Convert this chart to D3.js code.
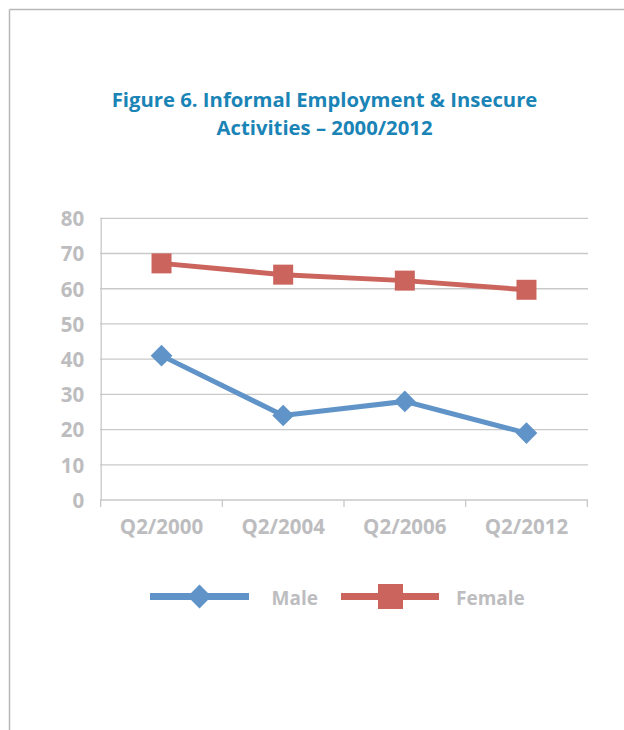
<!DOCTYPE html>
<html><head><meta charset="utf-8">
<script src="https://cdn.jsdelivr.net/npm/d3@7"></script>
<style>body{margin:0;background:#fff}svg{display:block}</style>
</head><body>
<script>
const categories = ["Q2/2000","Q2/2004","Q2/2006","Q2/2012"];
const maleValues = [41,24,28,19];
const femaleValues = [67.2,64,62.3,59.7];
const yTicks = [0,10,20,30,40,50,60,70,80];
const seriesNames = ["Male","Female"];
const titleLines = ["Figure 6. Informal Employment & Insecure","Activities \u2013 2000/2012"];

const W=624,H=730;
const svg=d3.select("body").append("svg").attr("width",W).attr("height",H);
const font="'Open Sans', 'DejaVu Sans', sans-serif";
const gray="#bdbdc0", grid="#c9c9c9", blue="#6094c8", red="#cb645c", titleC="#1a84b6";

// frame
svg.append("line").attr("x1",9.5).attr("x2",W).attr("y1",9.5).attr("y2",9.5).attr("stroke","#b8b8b8").attr("stroke-width",1.5);
svg.append("line").attr("x1",9.5).attr("x2",9.5).attr("y1",9.5).attr("y2",H).attr("stroke","#b8b8b8").attr("stroke-width",1.5);

// title
svg.append("text").attr("x",324).attr("text-anchor","middle").attr("font-family",font).attr("font-weight","bold")
  .attr("font-size",20.3).attr("fill",titleC)
  .selectAll("tspan").data(titleLines).join("tspan").attr("x",324.5).attr("y",(d,i)=>107+i*27.5).text(d=>d);

const x=d3.scaleBand().domain(categories).range([100.7,587.3]);
const y=d3.scaleLinear().domain([0,80]).range([500,218.3]);

// gridlines
svg.append("g").selectAll("line").data(yTicks.filter(d=>d>0)).join("line")
  .attr("x1",100).attr("x2",588).attr("y1",d=>y(d)).attr("y2",d=>y(d)).attr("stroke",grid).attr("stroke-width",1.3);

// y axis
const ya=svg.append("g").attr("transform","translate(100.7,0)").call(d3.axisLeft(y).tickValues(yTicks).tickSize(0).tickPadding(16.5));
ya.select(".domain").attr("stroke",grid).attr("stroke-width",1.3);
ya.selectAll("text").attr("font-family",font).attr("font-weight","bold").attr("font-size",20.5).attr("fill",gray).attr("dy","0.36em");

// x axis
const xa=svg.append("g").attr("transform","translate(0,500)").call(d3.axisBottom(x).tickSize(0).tickPadding(19));
xa.select(".domain").remove();
xa.selectAll("text").attr("font-family",font).attr("font-weight","bold").attr("font-size",20.5).attr("fill",gray).attr("dy","0.71em");
svg.append("line").attr("x1",100).attr("x2",588).attr("y1",500).attr("y2",500).attr("stroke",grid).attr("stroke-width",1.3);
const edges=categories.map(c=>x(c)).concat([x.range()[1]]);
svg.append("g").selectAll("line").data(edges).join("line")
  .attr("x1",d=>d).attr("x2",d=>d).attr("y1",500).attr("y2",507).attr("stroke",grid).attr("stroke-width",1.3);

const cx=c=>x(c)+x.bandwidth()/2;
const line=d3.line().x(d=>cx(d.c)).y(d=>y(d.v));
const male=categories.map((c,i)=>({c,v:maleValues[i]}));
const female=categories.map((c,i)=>({c,v:femaleValues[i]}));

svg.append("path").datum(female).attr("d",line).attr("fill","none").attr("stroke",red).attr("stroke-width",5);
svg.append("g").selectAll("rect").data(female).join("rect")
  .attr("x",d=>cx(d.c)-10).attr("y",d=>y(d.v)-10).attr("width",20).attr("height",20).attr("fill",red);

svg.append("path").datum(male).attr("d",line).attr("fill","none").attr("stroke",blue).attr("stroke-width",5);
const dsym=d3.symbol().type(d3.symbolDiamond2).size(300);
svg.append("g").selectAll("path").data(male).join("path")
  .attr("transform",d=>`translate(${cx(d.c)},${y(d.v)})`).attr("d",dsym).attr("fill",blue);

// legend
const lg=svg.append("g");
lg.append("line").attr("x1",150).attr("x2",249).attr("y1",596.5).attr("y2",596.5).attr("stroke",blue).attr("stroke-width",7);
lg.append("path").attr("transform","translate(199.5,596.5)").attr("d",d3.symbol().type(d3.symbolDiamond2).size(360)).attr("fill",blue);
lg.append("text").attr("x",271.5).attr("y",605).attr("font-family",font).attr("font-weight","bold").attr("font-size",19).attr("fill",gray).text(seriesNames[0]);
lg.append("line").attr("x1",341).attr("x2",439).attr("y1",596.5).attr("y2",596.5).attr("stroke",red).attr("stroke-width",7);
lg.append("rect").attr("x",378).attr("y",584).attr("width",25).attr("height",25).attr("fill",red);
lg.append("text").attr("x",456).attr("y",605).attr("font-family",font).attr("font-weight","bold").attr("font-size",19).attr("fill",gray).text(seriesNames[1]);
</script>
</body></html>
